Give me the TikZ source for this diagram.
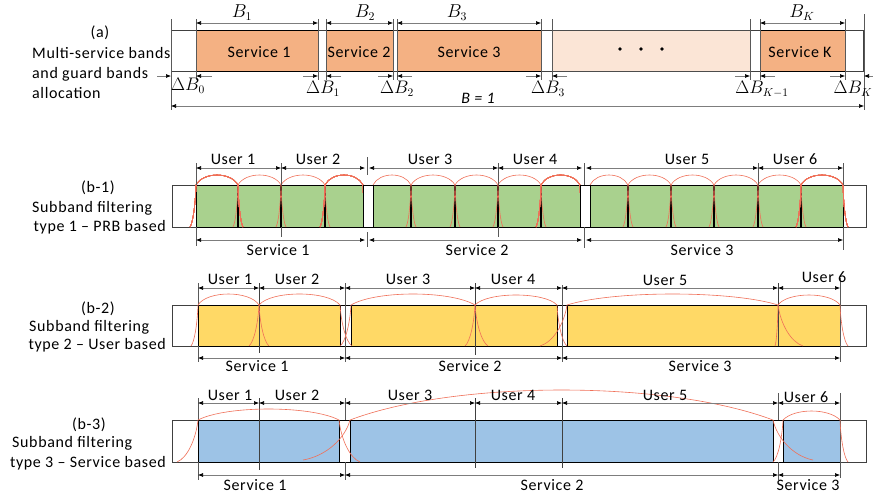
\documentclass[tikz,border=0pt]{standalone}
\usepackage{fontspec}
\setmainfont{Carlito}[LetterSpace=4]
\usetikzlibrary{arrows.meta}
\definecolor{svc}{RGB}{244,177,131}
\definecolor{svcl}{RGB}{251,229,214}
\definecolor{grn}{RGB}{169,209,142}
\definecolor{ylw}{RGB}{255,217,102}
\definecolor{blu}{RGB}{157,195,230}
\definecolor{flt}{RGB}{240,112,88}
\definecolor{dimc}{RGB}{125,125,125}
\newcommand\filt[8]{%
 \draw[filtc] ({#1-#6},#4) .. controls ({#1-0.5*#6},{#4-0.1*(#4-#3)}) and ({#1-0.1*#6},{#3+0.45*(#4-#3)}) .. (#1,#3)
  .. controls ({#1+#8*(#2-#1)},{#3-1.333*#5}) and ({#2-#8*(#2-#1)},{#3-1.333*#5}) .. (#2,#3)
  .. controls ({#2+0.1*#7},{#3+0.45*(#4-#3)}) and ({#2+0.5*#7},{#4-0.1*(#4-#3)}) .. ({#2+#7},#4);}
\tikzset{
 txt/.style={inner sep=0pt},
 dim/.style={dimc, line width=0.6pt, {Latex[length=5pt,width=4pt,black]}-{Latex[length=5pt,width=4pt,black]}},
 sarrow/.style={dimc, line width=0.6pt, -{Latex[length=5pt,width=4pt,black]}},
 tick/.style={black!65, line width=0.6pt},
 filtc/.style={flt, line width=0.6pt},
 frame/.style={draw=black!75, line width=0.6pt},
 gapbox/.style={draw=black, line width=1.0pt, fill=white},
 prb/.style={black, line width=1.6pt},
 udiv/.style={black!75, line width=0.7pt}
}
\begin{document}
\begin{tikzpicture}[x=1pt,y=-1pt,font=\fontsize{16}{19}\selectfont]
\useasboundingbox (0,0) rectangle (873,496);
\fill[white] (0,0) rectangle (873,496);

% ---------------- (a) ----------------
\node[txt] (ta0) at (100,33) {(a)};
\node[txt,anchor=west] (ta1) at (32,53) {Multi-service bands};
\node[txt,anchor=west] (ta2) at (32,74) {and guard bands};
\node[txt,anchor=west] (ta3) at (32,93) {allocation};

\draw[frame] (171,30) rectangle (863,71);
\filldraw[fill=svc,draw=black,line width=0.8pt] (196,30) rectangle (318,71);
\filldraw[fill=svc,draw=black,line width=0.8pt] (326,30) rectangle (393,71);
\filldraw[fill=svc,draw=black,line width=0.8pt] (397,30) rectangle (541,71);
\filldraw[fill=svcl,draw=black!70,line width=0.6pt] (552,30) rectangle (750,71);
\filldraw[fill=svc,draw=black,line width=0.8pt] (760,30) rectangle (845,71);
\node[txt] (s1) at (259,52) {Service 1};
\node[txt] (s2) at (359,52) {Service 2};
\node[txt] (s3) at (469,52) {Service 3};
\node[txt] (sk) at (800,52) {Service K};
\fill (620,49) circle (1.8) (641,49) circle (1.8) (662,49) circle (1.8);

\foreach \x in {196,318,326,393,397,541,552,750,760,845} \draw[tick] (\x,19) -- (\x,80);
\draw[tick] (171,19) -- (171,110);
\draw[tick] (864,14) -- (864,110);

\draw[dim] (196,23) -- (318,23);
\draw[dim] (326,23) -- (393,23);
\draw[dim] (397,23) -- (541,23);
\draw[dim] (760,23) -- (845,23);
\node[txt,scale=1.08] (b1) at (242,13) {$B_1$};
\node[txt,scale=1.08] (b2) at (365,13) {$B_2$};
\node[txt,scale=1.08] (b3) at (457,13) {$B_3$};
\node[txt,scale=1.08] (bk) at (802,13) {$B_K$};

\foreach \p/\q in {157/171,212/196,303/318,341/326,378/393,412/397,526/541,567/552,735/750,775/760,830/845,874/864}
  \draw[sarrow] (\p,76) -- (\q,76);
\node[txt,scale=1.05] (d0) at (188,86) {$\Delta B_0$};
\node[txt,scale=1.05] (d1) at (323,89) {$\Delta B_1$};
\node[txt,scale=1.05] (d2) at (397,89) {$\Delta B_2$};
\node[txt,scale=1.05] (d3) at (548,89) {$\Delta B_3$};
\node[txt,scale=1.05] (dk1) at (762,89) {$\Delta B_{K-1}$};
\node[txt,scale=1.05] (dk) at (853,89) {$\Delta B_K$};

\draw[dim] (171,106) -- (864,106);
\node[txt] (bb) at (478,98) {\itshape B = 1};

% ---------------- (b-1) ----------------
\node[txt] (t10) at (98,188) {(b-1)};
\node[txt,anchor=west] (t11) at (32,208) {Subband filtering};
\node[txt,anchor=east] (t12) at (166,227) {type 1 -- PRB based};

\draw[frame] (172,185) rectangle (866,227);
\filldraw[fill=grn,draw=black,line width=0.7pt] (196,185) rectangle (363,227);
\filldraw[fill=grn,draw=black,line width=0.7pt] (373,185) rectangle (580,227);
\filldraw[fill=grn,draw=black,line width=0.7pt] (590,185) rectangle (843,227);
\foreach \x in {238,281,325,411,455,498,541,628,671,714,758,801} \draw[prb] (\x,185) -- (\x,227);
\foreach \a/\b in {238/281,281/325,373/411,411/455,455/498,498/541,590/628,628/671,671/714,714/758,758/801}
  \filt{\a}{\b}{185}{227}{10}{5}{5}{0.17}
\filt{196}{238}{185}{227}{10}{6}{5}{0.17}
\filt{325}{363}{185}{227}{10}{5}{5}{0.17}
\filt{541}{580}{185}{227}{10}{5}{5}{0.17}
\filt{801}{843}{185}{227}{10}{5}{5}{0.17}
\draw[gapbox] (363,185) rectangle (373,227);
\draw[gapbox] (580,185) rectangle (590,227);

\foreach \x in {196,281,498,584,758,843} \draw[tick] (\x,163) -- (\x,185);
\draw[tick] (367,157) -- (367,175);
\draw[tick] (196,227) -- (196,246);
\draw[tick] (281,227) -- (281,237);
\draw[tick] (367,232) -- (367,247);
\draw[tick] (498,227) -- (498,237);
\draw[tick] (584,227) -- (584,248);
\draw[tick] (843,227) -- (843,250);

\draw[dim] (196,168) -- (281,168);
\draw[dim] (281,168) -- (365,168);
\draw[dim] (369,168) -- (498,168);
\draw[dim] (498,168) -- (582,168);
\draw[dim] (586,168) -- (758,168);
\draw[dim] (758,168) -- (843,168);
\node[txt] (u11) at (233,159) {User 1};
\node[txt] (u12) at (318,159) {User 2};
\node[txt] (u13) at (430,159) {User 3};
\node[txt] (u14) at (535,159) {User 4};
\node[txt] (u15) at (687,159) {User 5};
\node[txt] (u16) at (795,159) {User 6};

\draw[dim] (196,240) -- (365,240);
\draw[dim] (369,240) -- (582,240);
\draw[dim] (586,240) -- (843,240);
\node[txt] (v11) at (278,250) {Service 1};
\node[txt] (v12) at (477,250) {Service 2};
\node[txt] (v13) at (702,250) {Service 3};

% ---------------- (b-2) ----------------
\node[txt] (t20) at (98,309) {(b-2)};
\node[txt,anchor=west] (t21) at (29,327) {Subband filtering};
\node[txt,anchor=east] (t22) at (166,345) {type 2 -- User based};

\draw[frame] (172,305) rectangle (866,346);
\filldraw[fill=ylw,draw=black,line width=0.7pt] (198,305) rectangle (340,346);
\filldraw[fill=ylw,draw=black,line width=0.7pt] (351,305) rectangle (557,346);
\filldraw[fill=ylw,draw=black,line width=0.7pt] (567,305) rectangle (840,346);
\draw[gapbox,line width=0.8pt] (340,305) rectangle (351,346);
\draw[gapbox,line width=0.8pt] (557,305) rectangle (567,346);

\draw[tick] (198,283) -- (198,305);
\draw[tick] (198,346) -- (198,362);
\draw[udiv] (259,283) -- (259,353);
\draw[tick] (345,283) -- (345,362);
\draw[udiv] (475,283) -- (475,355);
\draw[tick] (562,285) -- (562,362);
\draw[udiv] (778,283) -- (778,346);
\draw[tick] (840,278) -- (840,362);

\filt{198}{259}{305}{346}{11}{7}{10}{0.15}
\filt{259}{340}{305}{346}{11}{10}{12}{0.15}
\filt{351}{475}{305}{346}{11}{11}{13}{0.2}
\filt{475}{557}{305}{346}{10}{10}{10}{0.15}
\filt{567}{778}{305}{346}{11}{27}{25}{0.22}
\filt{778}{840}{305}{346}{10}{3}{8}{0.15}

\draw[dim] (198,288) -- (259,288);
\draw[dim] (259,288) -- (345,288);
\draw[dim] (345,288) -- (475,288);
\draw[dim] (475,288) -- (562,288);
\draw[dim] (562,288) -- (778,288);
\draw[dim] (778,288) -- (840,288);
\node[txt] (u21) at (230,279) {User 1};
\node[txt] (u22) at (297,279) {User 2};
\node[txt] (u23) at (408,279) {User 3};
\node[txt] (u24) at (513,279) {User 4};
\node[txt] (u25) at (665,280) {User 5};
\node[txt] (u26) at (824,277) {User 6};

\draw[dim] (198,358) -- (345,358);
\draw[dim] (345,358) -- (562,358);
\draw[dim] (562,358) -- (840,358);
\node[txt] (v21) at (257,366) {Service 1};
\node[txt] (v22) at (470,366) {Service 2};
\node[txt] (v23) at (700,366) {Service 3};

% ---------------- (b-3) ----------------
\node[txt] (t30) at (89,425) {(b-3)};
\node[txt,anchor=west] (t31) at (12,443) {Subband filtering};
\node[txt,anchor=east] (t32) at (166,463) {type 3 -- Service based};

\draw[frame] (172,420) rectangle (866,462);
\filldraw[fill=blu,draw=black,line width=0.7pt] (198,420) rectangle (339,462);
\filldraw[fill=blu,draw=black,line width=0.7pt] (350,420) rectangle (773,462);
\filldraw[fill=blu,draw=black,line width=0.7pt] (783,420) rectangle (840,462);
\draw[gapbox,line width=0.8pt] (339,420) rectangle (350,462);
\draw[gapbox,line width=0.8pt] (773,420) rectangle (783,462);

\draw[tick] (198,398) -- (198,420);
\draw[tick] (198,462) -- (198,480);
\draw[udiv] (259,398) -- (259,470);
\draw[tick] (345,398) -- (345,420);
\draw[tick] (345,462) -- (345,480);
\draw[udiv] (475,398) -- (475,468);
\draw[udiv] (562,398) -- (562,468);
\draw[tick] (778,393) -- (778,420);
\draw[tick] (778,462) -- (778,480);
\draw[tick] (840,393) -- (840,478);

\filt{198}{339}{420}{462}{11}{21}{21}{0.2}
\filt{350}{773}{420}{460}{30}{47}{40}{0.25}
\filt{783}{840}{420}{462}{9}{10}{8}{0.2}

\draw[dim] (198,403) -- (259,403);
\draw[dim] (259,403) -- (345,403);
\draw[dim] (345,403) -- (475,403);
\draw[dim] (475,403) -- (562,403);
\draw[dim] (562,403) -- (778,403);
\draw[dim] (778,403) -- (840,403);
\node[txt] (u31) at (230,395) {User 1};
\node[txt] (u32) at (297,395) {User 2};
\node[txt] (u33) at (410,395) {User 3};
\node[txt] (u34) at (513,395) {User 4};
\node[txt] (u35) at (665,395) {User 5};
\node[txt] (u36) at (806,397) {User 6};

\draw[dim] (198,475) -- (345,475);
\draw[dim] (345,475) -- (778,475);
\draw[dim] (778,475) -- (840,475);
\node[txt] (v31) at (255,485) {Service 1};
\node[txt] (v32) at (552,485) {Service 2};
\node[txt] (v33) at (808,485) {Service 3};
\end{tikzpicture}
\end{document}
